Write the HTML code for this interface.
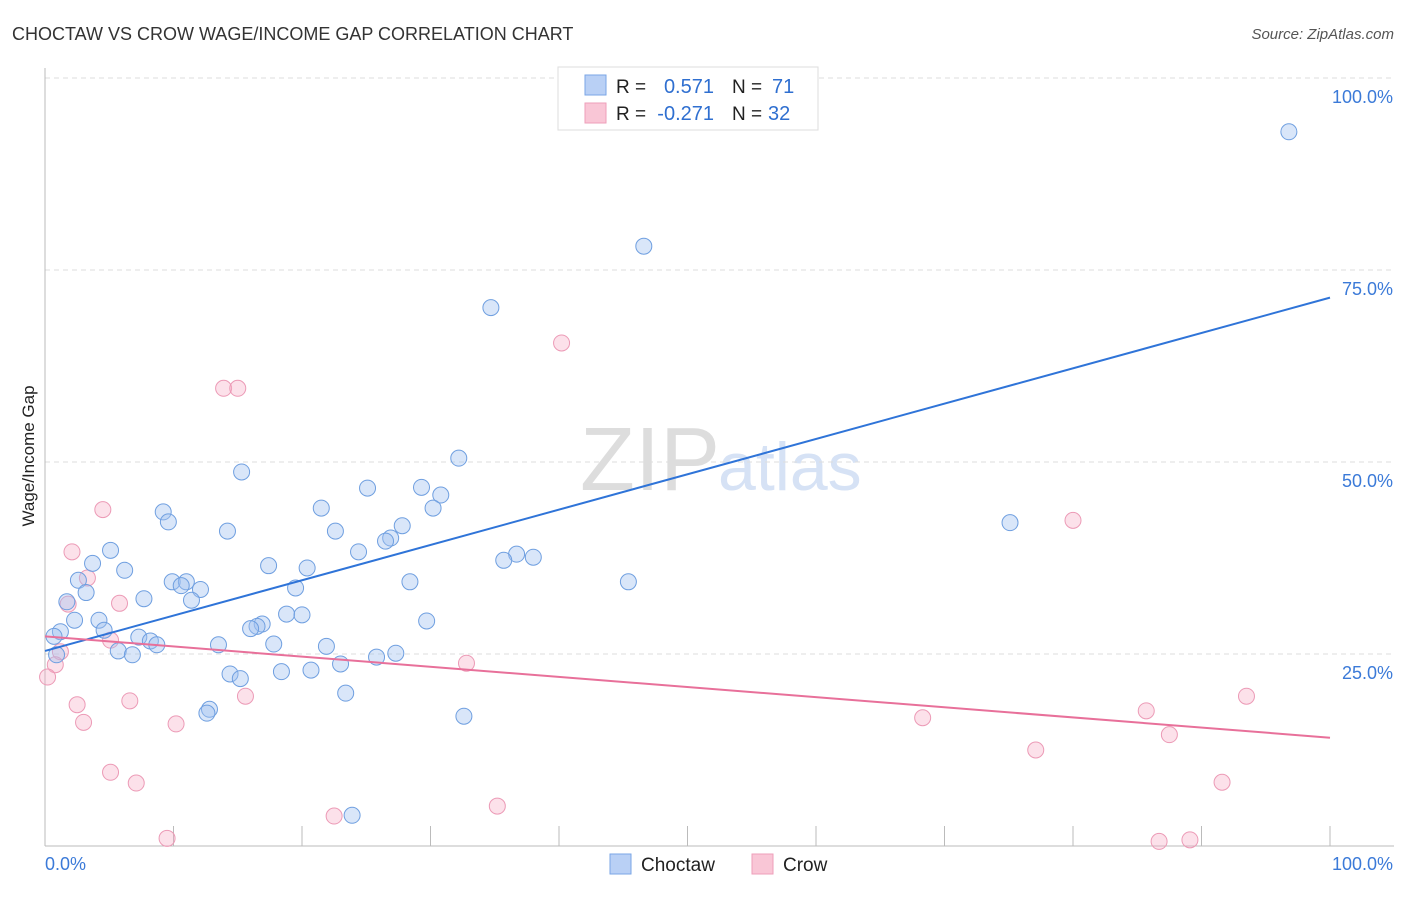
<!DOCTYPE html>
<html><head><meta charset="utf-8"><style>
body{margin:0;background:#fff;font-family:"Liberation Sans",sans-serif;}
svg text{font-family:"Liberation Sans",sans-serif;}
</style></head><body>
<svg id="c" width="1406" height="892">
<text x="12" y="40" font-size="18" fill="#333">CHOCTAW VS CROW WAGE/INCOME GAP CORRELATION CHART</text>
<text x="1394" y="39" font-size="15" fill="#555" font-style="italic" text-anchor="end">Source: ZipAtlas.com</text>
<text x="720" y="490" font-size="90" fill="#ddd" text-anchor="end" font-family="Liberation Serif">ZIP</text>
<text x="718" y="490" font-size="68" fill="#d6e2f5">atlas</text>
<text x="34" y="456" font-size="17" fill="#222" text-anchor="middle" transform="rotate(-90 34 456)">Wage/Income Gap</text>
<g id="grid"></g><g id="marks"></g>
<g>
<rect x="558" y="67" width="260" height="63" fill="#fff" stroke="#ddd"/>
<rect x="585" y="75" width="21" height="20" fill="#b9d0f5" stroke="#7aa6e6"/>
<rect x="585" y="103" width="21" height="20" fill="#f9c6d6" stroke="#ee9fba"/>
<text x="616" y="93" font-size="19" fill="#222">R = </text><text x="714" y="93" font-size="20" fill="#2f6fd0" text-anchor="end">0.571</text>
<text x="732" y="93" font-size="19" fill="#222">N = </text><text x="772" y="93" font-size="20" fill="#2f6fd0">71</text>
<text x="616" y="120" font-size="19" fill="#222">R = </text><text x="714" y="120" font-size="20" fill="#2f6fd0" text-anchor="end">-0.271</text>
<text x="732" y="120" font-size="19" fill="#222">N = </text><text x="768" y="120" font-size="20" fill="#2f6fd0">32</text>
</g>
<g>
<rect x="610" y="854" width="21" height="20" fill="#b9d0f5" stroke="#7aa6e6"/>
<text x="641" y="871" font-size="19" fill="#222">Choctaw</text>
<rect x="752" y="854" width="21" height="20" fill="#f9c6d6" stroke="#ee9fba"/>
<text x="783" y="871" font-size="19" fill="#222">Crow</text>
</g>
</svg>
<script>
const yTicks=[25,50,75,100];
const yTickLabels=["25.0%","50.0%","75.0%","100.0%"];
const blueX=[96.8,46.6,34.7,32.2,15.3,29.3,25.1,30.8,30.2,9.2,21.5,9.6,14.2,22.6,27.8,26.9,26.5,75.1,24.4,5.1,3.7,6.2,17.4,20.4,36.7,35.7,38.0,45.4,2.6,9.9,11.0,10.6,12.1,28.4,19.5,3.2,7.7,11.4,1.7,18.8,20.0,4.2,2.3,29.7,16.9,16.5,16.0,4.6,1.2,0.7,7.3,8.2,8.7,13.5,17.8,21.9,5.7,6.8,27.3,25.8,0.9,23.0,14.4,18.4,20.7,15.2,23.4,12.8,12.6,32.6,23.9];
const blueY=[93.0,78.1,70.1,50.5,48.7,46.7,46.6,45.7,44.0,43.5,44.0,42.2,41.0,41.0,41.7,40.1,39.7,42.1,38.3,38.5,36.8,35.9,36.5,36.2,38.0,37.2,37.6,34.4,34.6,34.4,34.4,33.9,33.4,34.4,33.6,33.0,32.2,32.0,31.8,30.2,30.1,29.4,29.4,29.3,28.9,28.6,28.3,28.1,27.9,27.3,27.2,26.7,26.2,26.2,26.3,26.0,25.4,24.9,25.1,24.6,24.9,23.7,22.4,22.7,22.9,21.8,19.9,17.8,17.3,16.9,4.0];
const pinkX=[40.2,13.9,15.0,80.0,4.5,2.1,3.3,5.8,1.8,5.1,1.2,0.8,0.2,32.8,93.5,2.5,15.6,6.6,68.3,85.7,3.0,10.2,87.5,77.1,5.1,7.1,91.6,35.2,22.5,9.5,86.7,89.1];
const pinkY=[65.5,59.6,59.6,42.4,43.8,38.3,34.9,31.6,31.5,26.8,25.3,23.6,22.0,23.8,19.5,18.4,19.5,18.9,16.7,17.6,16.1,15.9,14.5,12.5,9.6,8.2,8.3,5.2,3.9,1.0,0.6,0.8];
const blueLine=[25.4,71.4], pinkLine=[27.3,14.1];
const NS="http://www.w3.org/2000/svg";
const X=v=>45+v*12.85, Y=v=>846-v*7.68;
function mk(p,t,a){const e=document.createElementNS(NS,t);for(const k in a)e.setAttribute(k,a[k]);p.appendChild(e);return e;}
const g=document.getElementById('grid'),m=document.getElementById('marks');
yTicks.forEach((t,i)=>{const l=mk(g,'line',{x1:45,x2:1394,y1:Y(t),y2:Y(t),stroke:'#ddd','stroke-dasharray':'5,4'});


const tx=mk(g,'text',{x:1393,y:Y(t)+25,'font-size':18,fill:'#3b7ad8','text-anchor':'end'});tx.textContent=yTickLabels[i];

});
mk(g,'line',{x1:45,x2:1394,y1:846,y2:846,stroke:'#bbb'});
mk(g,'line',{x1:45,x2:45,y1:68,y2:846,stroke:'#bbb'});
for(let i=0;i<=10;i++){const t=mk(g,'line',{x1:X(i*10),x2:X(i*10),y1:826,y2:846,stroke:'#bbb'});

}
const xl=mk(g,'text',{x:45,y:870,'font-size':18,fill:'#3b7ad8'});xl.textContent='0.0%';


const xr=mk(g,'text',{x:1393,y:870,'font-size':18,fill:'#3b7ad8','text-anchor':'end'});xr.textContent='100.0%';


pinkX.forEach((v,i)=>{const c=mk(m,'circle',{cx:X(v),cy:Y(pinkY[i]),r:8,fill:'rgba(245,170,195,0.35)',stroke:'#ec9ab6','stroke-width':1});

});
blueX.forEach((v,i)=>{const c=mk(m,'circle',{cx:X(v),cy:Y(blueY[i]),r:8,fill:'rgba(160,192,240,0.4)',stroke:'#6f9fe0','stroke-width':1});

});
const bl=mk(m,'line',{x1:X(0),x2:X(100),y1:Y(blueLine[0]),y2:Y(blueLine[1]),stroke:'#2f74d8','stroke-width':2});


const pl=mk(m,'line',{x1:X(0),x2:X(100),y1:Y(pinkLine[0]),y2:Y(pinkLine[1]),stroke:'#e8709a','stroke-width':2});


</script>
</body></html>
